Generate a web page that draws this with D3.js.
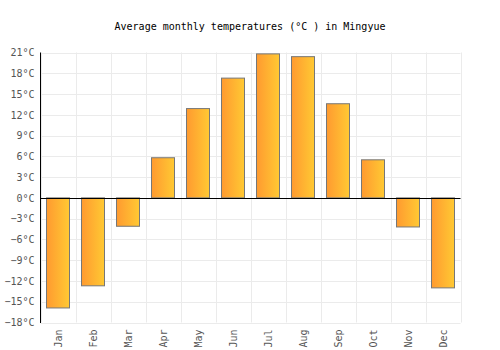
<!DOCTYPE html>
<html><head><meta charset="utf-8">
<script src="https://cdn.jsdelivr.net/npm/d3@7"></script>
<style>body{margin:0;background:#fff}svg{display:block}</style>
</head><body>
<script>
const months = ["Jan","Feb","Mar","Apr","May","Jun","Jul","Aug","Sep","Oct","Nov","Dec"];
const temps = [-15.9,-12.7,-4.1,5.8,12.9,17.3,20.8,20.4,13.6,5.5,-4.2,-13.0];
const yTicks = [-18,-15,-12,-9,-6,-3,0,3,6,9,12,15,18,21];
const title = "Average monthly temperatures (°C ) in Mingyue";

const W=500,H=350, L=40.5, R=460.5, T=52.5, B=322.5;
const svg=d3.select("body").append("svg").attr("width",W).attr("height",H);
const font="'DejaVu Sans Mono', monospace";
const defs=svg.append("defs");
const g=defs.append("linearGradient").attr("id","bg").attr("x1","0").attr("x2","1").attr("y1","0").attr("y2","0");
g.append("stop").attr("offset","0").attr("stop-color","#ff9a30");
g.append("stop").attr("offset","1").attr("stop-color","#ffc933");

const x=d3.scaleBand().domain(months).range([L,R]).paddingInner(0.33).paddingOuter(0.165);
const xb=d3.scaleBand().domain(months).range([L,R]);
const y=d3.scaleLinear().domain([-18,21]).range([B,T]);

// grid
svg.append("g").selectAll("line.h").data(yTicks).join("line")
 .attr("x1",L).attr("x2",R).attr("y1",d=>Math.round(y(d))+0.5).attr("y2",d=>Math.round(y(d))+0.5)
 .attr("stroke","#ebebeb").attr("stroke-width",1);
svg.append("g").selectAll("line.v").data(months.concat(["end"])).join("line")
 .attr("x1",(d,i)=>Math.round(L+i*xb.bandwidth())+0.5).attr("x2",(d,i)=>Math.round(L+i*xb.bandwidth())+0.5)
 .attr("y1",T).attr("y2",B).attr("stroke","#ebebeb");

// bars
svg.append("g").selectAll("rect").data(temps).join("rect")
 .attr("x",(d,i)=>Math.round(x(months[i]))+0.5)
 .attr("width",Math.round(x.bandwidth()))
 .attr("y",d=>y(Math.max(0,d)))
 .attr("height",d=>Math.abs(y(d)-y(0)))
 .attr("fill","url(#bg)").attr("stroke","#777").attr("stroke-width",1);

// zero line and y axis line
svg.append("line").attr("x1",L).attr("x2",R).attr("y1",Math.round(y(0))+0.5).attr("y2",Math.round(y(0))+0.5).attr("stroke","#000");
svg.append("line").attr("x1",L).attr("x2",L).attr("y1",T).attr("y2",B+0.5).attr("stroke","#000");

// y labels
const yAxis=d3.axisLeft(y).tickValues(yTicks).tickSize(0).tickPadding(5).tickFormat(d=>(d<0?"\u2212"+(-d):d)+"°C");
const ya=svg.append("g").attr("transform",`translate(${L-1},0)`).call(yAxis);
ya.select(".domain").remove();
ya.selectAll("text").attr("font-family",font).attr("font-size",10).attr("fill","#555");

// x labels
const xAxis=d3.axisBottom(xb).tickSize(0).tickPadding(0);
const xa=svg.append("g").attr("transform",`translate(0,${B})`).call(xAxis);
xa.select(".domain").remove();
xa.selectAll("text").attr("font-family",font).attr("font-size",10).attr("fill","#555")
 .attr("transform","rotate(-90)").attr("text-anchor","end").attr("dy","0.35em").attr("dx","-7").attr("y",0).attr("x",0);

svg.append("text").attr("x",250).attr("y",30).attr("text-anchor","middle")
 .attr("font-family",font).attr("font-size",10).attr("fill","#000").text(title);
</script>
</body></html>
